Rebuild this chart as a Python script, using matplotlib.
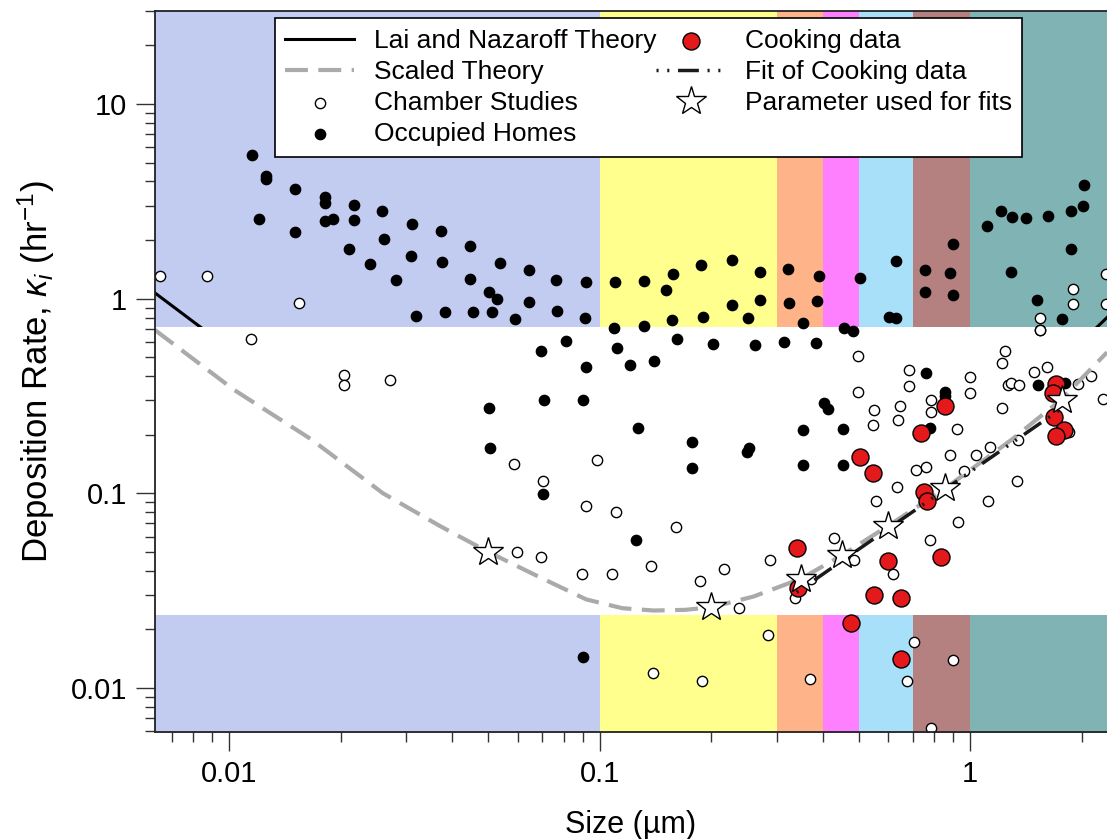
import numpy as np
import matplotlib
matplotlib.use("Agg")
import matplotlib.pyplot as plt
from matplotlib.ticker import LogLocator, FuncFormatter, NullFormatter

plt.rcParams['font.family'] = ['Liberation Sans', 'DejaVu Sans']
plt.rcParams['mathtext.fontset'] = 'custom'
plt.rcParams['mathtext.rm'] = 'Liberation Sans'
plt.rcParams['mathtext.it'] = 'Liberation Sans:italic'

# size bins used for the coloured bands (um)
band_edges = [0.0063, 0.1, 0.3, 0.4, 0.5, 0.7, 1.0, 2.34]
band_colors = ['#C2CBF0', '#FFFF8E', '#FFB388', '#FF80FF', '#A8E0FA', '#B58080', '#80B4B4']

# theory curves
theory_x = [0.0063, 0.0103, 0.0166, 0.026, 0.037, 0.05, 0.069, 0.092, 0.115, 0.14,
            0.17, 0.2, 0.26, 0.35, 0.45, 0.6, 0.85, 1.3, 1.75, 2.34]
scaled_y = [0.69, 0.34, 0.19, 0.10, 0.068, 0.050, 0.037, 0.0285, 0.0257, 0.0250,
            0.0252, 0.026, 0.0295, 0.0365, 0.048, 0.068, 0.105, 0.19, 0.30, 0.53]
lai_y = [1.07, 0.53, 0.29, 0.155, 0.105, 0.078, 0.057, 0.044, 0.040, 0.039,
         0.039, 0.040, 0.046, 0.057, 0.074, 0.105, 0.163, 0.29, 0.47, 0.80]

# chamber studies
chamber_x = [0.00651, 0.00872, 0.01545, 1.90, 1.90, 1.545, 1.545, 2.328, 2.328,
             0.01145, 0.02035, 0.02035, 0.02719,
             0.05876, 0.07027, 0.0920, 0.0983,
             0.05976, 0.0692, 0.0897, 0.1079,
             0.1106, 0.1604, 0.1379, 0.186, 0.2158, 0.2885, 0.2377, 0.3355, 0.3716, 0.43, 0.4854,
             0.4992, 0.4985, 0.6832, 0.6832, 0.5496, 0.5448, 0.6444, 0.638, 0.7831, 0.7831, 0.9206, 0.9957, 0.9957,
             1.238, 1.222, 1.218, 1.261, 1.288, 1.356, 1.482, 1.611, 1.542, 1.96, 2.121, 2.289,
             1.842, 1.345, 1.130, 1.036, 0.8846, 0.7594, 0.7117, 0.9592, 1.339, 0.6353, 0.5551, 1.116, 0.924, 0.7784, 0.6183,
             0.1394, 0.1883, 0.2837, 0.37, 0.7029, 0.673, 0.898, 0.7814]
chamber_y = [1.313, 1.308, 0.946, 1.121, 0.943, 0.792, 0.691, 1.344, 0.943,
             0.621, 0.4056, 0.3617, 0.3805,
             0.1416, 0.1158, 0.0858, 0.1477,
             0.0498, 0.0471, 0.0387, 0.0387,
             0.0803, 0.0668, 0.0422, 0.0355, 0.0409, 0.0455, 0.02566, 0.02885, 0.0362, 0.0587, 0.0455,
             0.5055, 0.333, 0.4318, 0.3544, 0.2669, 0.2245, 0.2822, 0.2391, 0.3029, 0.2606, 0.2142, 0.3962, 0.3264,
             0.541, 0.469, 0.2756, 0.3617, 0.369, 0.3587, 0.4217, 0.4475, 0.6875, 0.3647, 0.399, 0.3053,
             0.2074, 0.1872, 0.1731, 0.158, 0.158, 0.1371, 0.1312, 0.1308, 0.1158, 0.1083, 0.0918, 0.0914, 0.0716, 0.0578, 0.0387,
             0.012, 0.0108, 0.0188, 0.01117, 0.0173, 0.0109, 0.01394, 0.00624]

# occupied homes
homes_x = [0.0115, 0.0126, 0.0126, 0.0150, 0.0120, 0.0150, 0.0181, 0.0181, 0.0181, 0.0191,
           0.0217, 0.0217, 0.0210, 0.0259, 0.0262, 0.0240, 0.0281, 0.0312, 0.0310, 0.0373,
           0.0376, 0.0320, 0.0383, 0.0446, 0.0445, 0.0454, 0.0503, 0.0529, 0.0513, 0.0539,
           0.0591, 0.0645, 0.0645, 0.0762, 0.0766, 0.0918, 0.0912,
           0.110, 0.132, 0.158, 0.151, 0.188, 0.227, 0.271, 0.227, 0.271, 0.109,
           0.132, 0.157, 0.190, 0.251, 0.323, 0.391, 0.324, 0.386, 0.353, 0.504,
           0.455, 0.483, 0.629, 0.605, 0.631, 0.756, 0.901, 0.883, 0.756, 0.901,
           1.107, 1.87, 1.285, 1.514, 1.768,
           1.212, 1.293, 1.410, 1.617, 1.87, 2.022, 2.015,
           0.0692, 0.0813, 0.1113, 0.0920, 0.1209, 0.1405, 0.1612, 0.2016, 0.2624, 0.3142,
           0.3824, 0.0502, 0.0708, 0.0903, 0.1265, 0.0504, 0.1769, 0.1773, 0.2496, 0.2527,
           0.0704, 0.1252, 0.3526, 0.3526, 0.4533, 0.4522, 0.4019, 0.412, 0.7594, 0.856,
           0.856, 0.7764, 1.52, 1.797, 0.0901]
homes_y = [5.45, 4.28, 4.12, 3.67, 2.58, 2.21, 3.33, 3.09, 2.52, 2.58,
           3.02, 2.55, 1.81, 2.83, 2.02, 1.51, 1.25, 2.41, 1.66, 2.23,
           1.54, 0.811, 0.855, 1.87, 1.256, 0.85, 1.077, 1.0, 0.85, 1.52,
           0.79, 1.40, 0.957, 1.25, 0.868, 1.22, 0.796,
           1.218, 1.233, 1.333, 1.108, 1.495, 1.573, 1.371, 0.932, 0.98, 0.707,
           0.727, 0.78, 0.808, 0.799, 1.414, 1.308, 0.946, 0.973, 0.753, 1.271,
           0.707, 0.679, 1.554, 0.802, 0.796, 1.398, 1.916, 1.355, 1.077, 1.045,
           2.35, 1.806, 1.371, 0.98, 0.79,
           2.81, 2.63, 2.60, 2.65, 2.81, 3.82, 2.98,
           0.541, 0.607, 0.56, 0.444, 0.458, 0.476, 0.623, 0.587, 0.578, 0.599,
           0.592, 0.2756, 0.303, 0.30, 0.2175, 0.171, 0.1827, 0.135, 0.1632, 0.1703,
           0.0997, 0.0578, 0.2117, 0.1393, 0.2142, 0.1393, 0.2912, 0.2723, 0.4153, 0.333,
           0.3177, 0.2168, 0.3617, 0.369, 0.01444]

# cooking data
cook_x = [0.5027, 0.5473, 0.7376, 0.856, 0.748, 0.7641, 1.707, 1.678, 1.685, 1.786,
          1.707, 0.3412, 0.598, 0.8335, 0.3433, 0.5496, 0.65, 0.4752, 0.65]
cook_y = [0.153, 0.1267, 0.2043, 0.2822, 0.1012, 0.0918, 0.3647, 0.328, 0.247, 0.2124,
          0.197, 0.0526, 0.045, 0.0469, 0.0328, 0.0302, 0.029, 0.0216, 0.0141]

fit_x = [0.34, 1.75]
fit_y = [0.031, 0.27]

param_x = [0.05, 0.2, 0.35, 0.45, 0.60, 0.853, 1.77]
param_y = [0.0497, 0.026, 0.0365, 0.0484, 0.068, 0.106, 0.30]

top_band_low = 0.718
bottom_band_high = 0.0237

fig = plt.figure(figsize=(11.07, 8.39), dpi=100)
ax = fig.add_axes([0.14, 0.1275, 0.86, 0.8594])
ax.set_xscale('log')
ax.set_yscale('log')
ax.set_xlim(0.0063, 2.34)
ax.set_ylim(0.00594, 30.05)

# coloured size bands, top and bottom parts only
for lo, hi, c in zip(band_edges[:-1], band_edges[1:], band_colors):
    ax.fill_between([lo, hi], top_band_low, 100, color=c, lw=0, zorder=0)
    ax.fill_between([lo, hi], 0.001, bottom_band_high, color=c, lw=0, zorder=0)

ax.plot(theory_x, lai_y, color='black', lw=2.2, zorder=1, label='Lai and Nazaroff Theory')
ax.axhspan(bottom_band_high, top_band_low, color='white', lw=0, zorder=1.5)

ax.plot(theory_x, scaled_y, color='#AAAAAA', lw=3, dashes=(5.5, 2.5), zorder=2.5,
        label='Scaled Theory')
ax.scatter(chamber_x, chamber_y, s=55, facecolor='white', edgecolor='black', lw=1,
           zorder=2, label='Chamber Studies')
ax.scatter(homes_x, homes_y, s=55, facecolor='black', edgecolor='black', lw=1,
           zorder=2.1, label='Occupied Homes')
ax.scatter(cook_x, cook_y, s=150, facecolor='#E3191C', edgecolor='black', lw=1,
           zorder=3, label='Cooking data')
ax.plot(fit_x, fit_y, color='#1A1A1A', lw=2.5, dashes=(0.6, 2.5, 0.6, 2.5, 6, 2.5),
        zorder=3.5, label='Fit of Cooking data')
ax.plot(param_x, param_y, ls='none', marker='*', ms=22, mfc='white', mec='black',
        mew=1, zorder=4, label='Parameter used for fits')

fmt = FuncFormatter(lambda v, p: '%g' % v)
ax.xaxis.set_major_formatter(fmt)
ax.yaxis.set_major_formatter(fmt)
ax.xaxis.set_minor_locator(LogLocator(base=10, subs=np.arange(2, 10)))
ax.yaxis.set_minor_locator(LogLocator(base=10, subs=np.arange(2, 10)))
ax.xaxis.set_minor_formatter(NullFormatter())
ax.yaxis.set_minor_formatter(NullFormatter())
ax.tick_params(which='major', length=14, width=1, labelsize=21, color='#333333', pad=6)
ax.tick_params(which='minor', length=7, width=1, color='#333333')
ax.tick_params(top=False, right=False)

for side in ['top', 'bottom', 'left']:
    ax.spines[side].set_color('#222222')
    ax.spines[side].set_linewidth(1.3)
ax.spines['right'].set_visible(False)

ax.set_xlabel('Size (µm)', fontsize=22, labelpad=16)
ax.set_ylabel(r'Deposition Rate, $\kappa_i$ (hr$^{-1}$)', fontsize=25, labelpad=10)

leg = ax.legend(ncol=2, loc='upper left', bbox_to_anchor=(0.126, 0.99), fontsize=19,
                frameon=True, fancybox=False, framealpha=1, edgecolor='black',
                handlelength=2.6, handletextpad=0.75, columnspacing=0.0,
                borderpad=0.4, labelspacing=0.27, borderaxespad=0)
leg.get_frame().set_linewidth(1.2)

fig.savefig('out.png', dpi=100)
